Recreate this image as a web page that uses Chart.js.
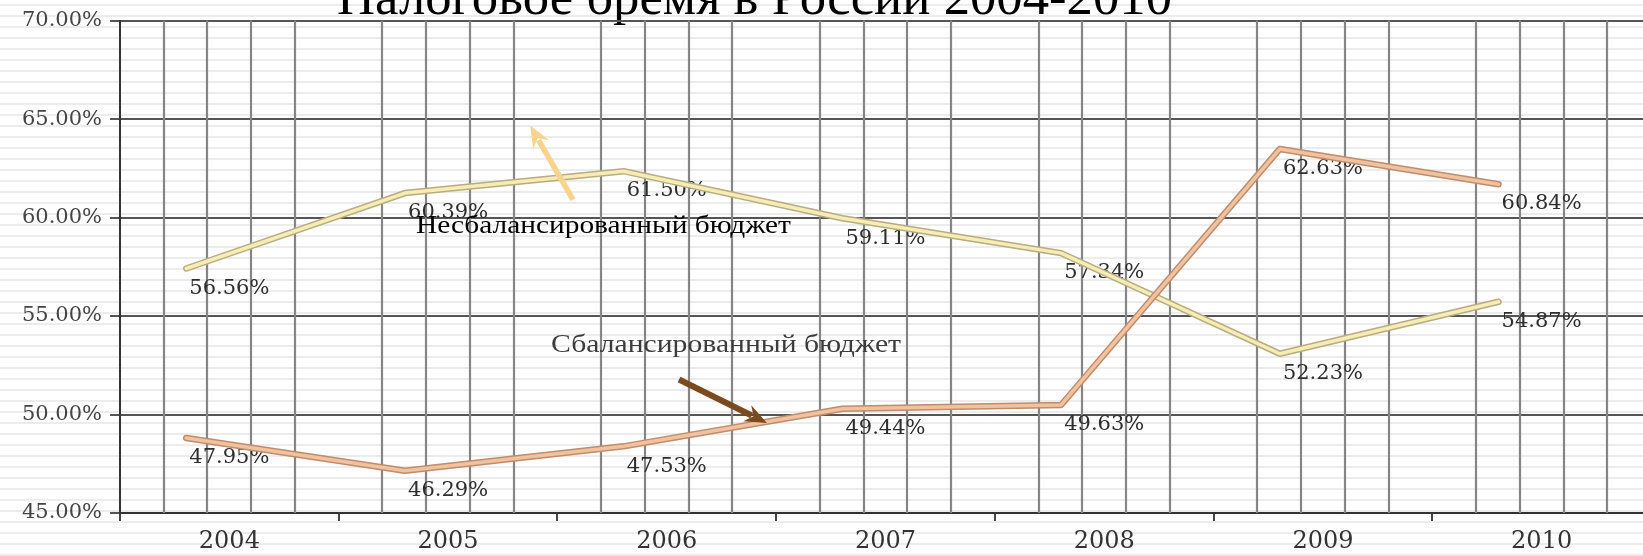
<!DOCTYPE html>
<html>
<head>
<meta charset="utf-8">
<script src="https://cdn.jsdelivr.net/npm/chart.js@4.4.1/dist/chart.umd.min.js"></script>
<style>
  html, body { margin: 0; padding: 0; background: #fff; overflow: hidden; width: 1643px; height: 556px; }
  #wrap { position: relative; width: 1651px; height: 556px; }
</style>
</head>
<body>
<div id="wrap"><canvas id="c" width="1651" height="556"></canvas></div>
<script>
// ---- data ----
const years = ['2004', '2005', '2006', '2007', '2008', '2009', '2010'];
const unbalanced = [56.56, 60.39, 61.50, 59.11, 57.34, 52.23, 54.87];
const balanced = [47.95, 46.29, 47.53, 49.44, 49.63, 62.63, 60.84];
const yTicks = [45, 50, 55, 60, 65, 70];

const titleText = 'Налоговое бремя в России 2004-2010';
const unbalancedName = 'Несбалансированный бюджет';
const balancedName = 'Сбалансированный бюджет';

// The series lines sit on their own hidden axes, nudged left/up from the labelled grid
const LINE_SHIFT_CAT = 0.197;  // in categories
const LINE_SHIFT_PCT = 0.854;  // in percentage points

const TICK_FONT = '"DejaVu Serif", serif';
const TEXT_FONT = '"Liberation Serif", "Times New Roman", serif';

const points = arr => arr.map((v, i) => ({ x: i, y: v }));

function lineSet(label, arr, color, width, order) {
  return {
    label, data: points(arr), xAxisID: 'xl', yAxisID: 'yl',
    borderColor: color, borderWidth: width, pointRadius: 0, pointHoverRadius: 0,
    tension: 0, fill: false, borderJoinStyle: 'round', borderCapStyle: 'round', order
  };
}

// faint ruled paper background and the title
const paperPlugin = {
  id: 'paper',
  beforeDraw(chart) {
    const { ctx, width, height } = chart;
    ctx.save();
    ctx.fillStyle = '#ffffff';
    ctx.fillRect(0, 0, width, height);
    ctx.fillStyle = '#ececec';
    for (let y = 4; y < height; y += 11) ctx.fillRect(0, y, width, 2);
    drawFitted(ctx, titleText, 337, 14, 835, '52px ' + TEXT_FONT, '#000');
    ctx.restore();
  }
};

// vertical minor grid (fifths of a category) and value labels
const gridLabelPlugin = {
  id: 'gridLabels',
  beforeDatasetsDraw(chart) {
    const { ctx, chartArea } = chart;
    const xs = chart.scales.x, ys = chart.scales.y;
    ctx.save();
    ctx.strokeStyle = '#858585';
    ctx.lineWidth = 2.2;
    for (let i = 0; i < years.length; i++) {
      for (let k = 1; k <= 4; k++) {
        const px = Math.round(xs.getPixelForValue(i - 0.5 + k / 5));
        ctx.beginPath();
        ctx.moveTo(px, chartArea.top);
        ctx.lineTo(px, chartArea.bottom);
        ctx.stroke();
      }
    }
    ctx.font = '21px ' + TICK_FONT;
    ctx.fillStyle = '#2e2e2e';
    ctx.textAlign = 'center';
    ctx.textBaseline = 'middle';
    [unbalanced, balanced].forEach(arr => {
      arr.forEach((v, i) => {
        ctx.fillText(v.toFixed(2) + '%', xs.getPixelForValue(i), ys.getPixelForValue(v) + 3);
      });
    });
    ctx.restore();
  }
};

function drawFitted(ctx, text, x, y, width, font, color) {
  ctx.save();
  ctx.font = font;
  ctx.fillStyle = color;
  ctx.textAlign = 'left';
  ctx.textBaseline = 'alphabetic';
  const w = ctx.measureText(text).width;
  ctx.translate(x, y);
  ctx.scale(width / w, 1);
  ctx.fillText(text, 0, 0);
  ctx.restore();
}

function drawArrow(ctx, x1, y1, x2, y2, color, lw, headLen, headHalf) {
  const a = Math.atan2(y2 - y1, x2 - x1);
  const bx = x2 - Math.cos(a) * headLen, by = y2 - Math.sin(a) * headLen;
  ctx.save();
  ctx.strokeStyle = color;
  ctx.fillStyle = color;
  ctx.lineWidth = lw;
  ctx.lineCap = 'butt';
  ctx.beginPath();
  ctx.moveTo(x1, y1);
  ctx.lineTo(bx + Math.cos(a) * 2, by + Math.sin(a) * 2);
  ctx.stroke();
  const nx = -Math.sin(a), ny = Math.cos(a);
  ctx.beginPath();
  ctx.moveTo(x2, y2);
  ctx.lineTo(bx + nx * headHalf - Math.cos(a) * 3, by + ny * headHalf - Math.sin(a) * 3);
  ctx.lineTo(bx + Math.cos(a) * 4, by + Math.sin(a) * 4);
  ctx.lineTo(bx - nx * headHalf - Math.cos(a) * 3, by - ny * headHalf - Math.sin(a) * 3);
  ctx.closePath();
  ctx.fill();
  ctx.restore();
}

// series captions with pointer arrows (positions in category / percent units)
const notes = [
  { text: unbalancedName, at: [0.853, 59.21], width: 375, color: '#000000',
    arrow: [[1.571, 60.91], [1.375, 64.68]], arrowColor: '#f8d38c', lw: 5.5 },
  { text: balancedName, at: [1.471, 53.18], width: 350, color: '#3c3c3c',
    arrow: [[2.056, 51.78], [2.458, 49.57]], arrowColor: '#7b4a1f', lw: 6 }
];

const notesPlugin = {
  id: 'notes',
  afterDraw(chart) {
    const { ctx } = chart;
    const xs = chart.scales.x, ys = chart.scales.y;
    notes.forEach(n => {
      const [a, b] = n.arrow;
      drawArrow(ctx, xs.getPixelForValue(a[0]), ys.getPixelForValue(a[1]),
        xs.getPixelForValue(b[0]), ys.getPixelForValue(b[1]), n.arrowColor, n.lw, 19, 9);
      drawFitted(ctx, n.text, xs.getPixelForValue(n.at[0]), ys.getPixelForValue(n.at[1]),
        n.width, '25px ' + TEXT_FONT, n.color);
    });
  }
};

new Chart(document.getElementById('c'), {
  type: 'line',
  data: {
    labels: years,
    datasets: [
      lineSet(balancedName, balanced, '#f2c29e', 3.5, 0),
      lineSet(balancedName, balanced, '#bd8d6e', 6.5, 1),
      lineSet(unbalancedName, unbalanced, '#f5edb4', 3.5, 2),
      lineSet(unbalancedName, unbalanced, '#b9ab82', 6.5, 3)
    ]
  },
  options: {
    responsive: false,
    devicePixelRatio: 1,
    animation: false,
    layout: { padding: { left: 0, right: 0, top: 15, bottom: 0 } },
    plugins: { legend: { display: false }, tooltip: { enabled: false }, title: { display: false } },
    scales: {
      x: {
        type: 'category',
        offset: true,
        grid: { offset: true, drawOnChartArea: false, drawTicks: true, tickLength: 8, color: '#444', lineWidth: 2 },
        border: { display: true, color: '#333', width: 2 },
        ticks: { font: { family: TICK_FONT, size: 24 }, color: '#333', padding: 6, maxRotation: 0, autoSkip: false },
        afterFit(scale) { scale.height = 43; }
      },
      y: {
        type: 'linear',
        min: 45, max: 70,
        afterBuildTicks(scale) { scale.ticks = yTicks.map(v => ({ value: v })); },
        grid: { color: '#555', lineWidth: 2, tickLength: 10 },
        border: { display: true, color: '#333', width: 2 },
        ticks: { font: { family: TICK_FONT, size: 21 }, color: '#444', padding: 8,
                 callback: v => Number(v).toFixed(2) + '%' },
        afterFit(scale) { scale.width = 120; }
      },
      xl: { type: 'linear', display: false, min: -0.5 + LINE_SHIFT_CAT, max: years.length - 0.5 + LINE_SHIFT_CAT },
      yl: { type: 'linear', display: false, min: 45 - LINE_SHIFT_PCT, max: 70 - LINE_SHIFT_PCT }
    }
  },
  plugins: [paperPlugin, gridLabelPlugin, notesPlugin]
});
</script>
</body>
</html>
